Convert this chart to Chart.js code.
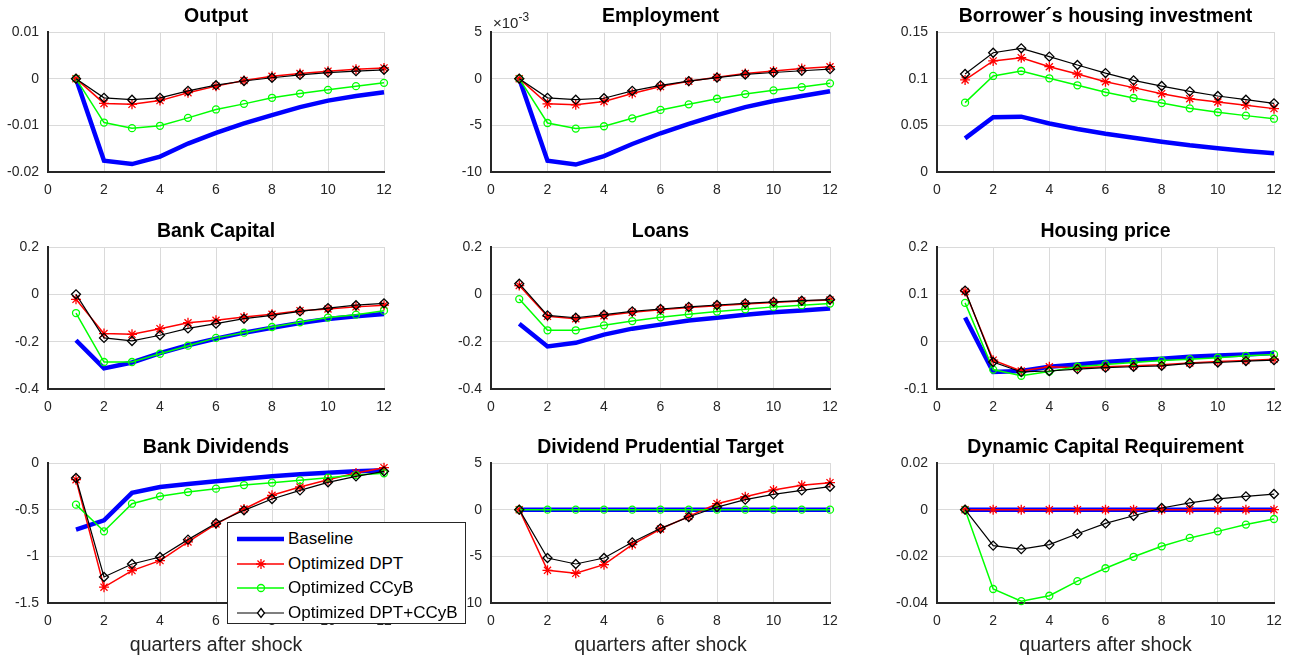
<!DOCTYPE html>
<html>
<head>
<meta charset="utf-8">
<script src="https://cdn.jsdelivr.net/npm/chart.js@4.4.0/dist/chart.umd.min.js"></script>
<style>
body { margin: 0; background: #fff; width: 1293px; height: 661px; position: relative; overflow: hidden; font-family: "Liberation Sans", Arial, sans-serif; }
canvas { position: absolute; }
#legend { position: absolute; left: 227px; top: 522px; width: 237px; height: 100px; border: 1px solid #262626; background: #fff; }
.item { position: absolute; left: 9px; height: 24px; display: flex; align-items: center; font-size: 17px; color: #000; white-space: nowrap; }
.item svg { margin-right: 3px; }
</style>
</head>
<body>
<div id="legend"></div>
<script>
const quarters = [1, 2, 3, 4, 5, 6, 7, 8, 9, 10, 11, 12];
const seriesNames = ["Baseline", "Optimized DPT", "Optimized CCyB", "Optimized DPT+CCyB"];

// Output
const outputBase = [0, -0.0176, -0.0183, -0.0167, -0.0139, -0.0116, -0.0096, -0.0078, -0.0061, -0.0047, -0.0037, -0.0029];
const outputDPT = [0, -0.0053, -0.0055, -0.0047, -0.0030, -0.0016, -0.0004, 0.0005, 0.0011, 0.0016, 0.0020, 0.0023];
const outputCCyB = [0, -0.0094, -0.0106, -0.0101, -0.0084, -0.0066, -0.0054, -0.0041, -0.0032, -0.0024, -0.0016, -0.0009];
const outputBoth = [0, -0.0041, -0.0045, -0.0041, -0.0026, -0.0014, -0.0005, 0.0002, 0.0008, 0.0013, 0.0016, 0.0019];

// Employment (x 10^-3)
const emplBase = [0, -8.8, -9.2, -8.3, -7.0, -5.85, -4.85, -3.9, -3.05, -2.4, -1.85, -1.35];
const emplDPT = [0, -2.7, -2.8, -2.45, -1.6, -0.85, -0.28, 0.15, 0.55, 0.82, 1.1, 1.28];
const emplCCyB = [0, -4.75, -5.35, -5.1, -4.25, -3.35, -2.75, -2.15, -1.65, -1.25, -0.9, -0.5];
const emplBoth = [0, -2.05, -2.25, -2.1, -1.3, -0.72, -0.26, 0.12, 0.45, 0.66, 0.85, 1.02];

// Borrower's housing investment
const houseInvBase = [0.036, 0.0586, 0.0593, 0.052, 0.046, 0.041, 0.0368, 0.0325, 0.0286, 0.0254, 0.0225, 0.020];
const houseInvDPT = [0.0986, 0.119, 0.1225, 0.1128, 0.105, 0.0968, 0.0904, 0.0839, 0.0786, 0.075, 0.0714, 0.0679];
const houseInvCCyB = [0.0743, 0.1029, 0.1082, 0.1004, 0.0929, 0.0854, 0.0793, 0.0739, 0.0682, 0.064, 0.0604, 0.0571];
const houseInvBoth = [0.105, 0.1278, 0.1325, 0.1236, 0.1146, 0.106, 0.0982, 0.0921, 0.0864, 0.0814, 0.0775, 0.0736];

// Bank Capital
const capBase = [-0.194, -0.313, -0.288, -0.248, -0.215, -0.187, -0.162, -0.141, -0.121, -0.104, -0.093, -0.083];
const capDPT = [-0.021, -0.166, -0.169, -0.145, -0.12, -0.11, -0.096, -0.084, -0.069, -0.062, -0.053, -0.046];
const capCCyB = [-0.079, -0.286, -0.286, -0.251, -0.217, -0.184, -0.162, -0.138, -0.118, -0.098, -0.086, -0.069];
const capBoth = [0, -0.184, -0.197, -0.173, -0.144, -0.124, -0.103, -0.089, -0.072, -0.058, -0.046, -0.038];

// Loans
const loansBase = [-0.124, -0.22, -0.205, -0.17, -0.145, -0.128, -0.111, -0.099, -0.086, -0.076, -0.068, -0.06];
const loansDPT = [0.037, -0.093, -0.103, -0.09, -0.076, -0.065, -0.056, -0.048, -0.041, -0.035, -0.028, -0.024];
const loansCCyB = [-0.02, -0.152, -0.152, -0.131, -0.113, -0.097, -0.084, -0.073, -0.063, -0.053, -0.046, -0.039];
const loansBoth = [0.045, -0.089, -0.099, -0.086, -0.072, -0.062, -0.053, -0.045, -0.038, -0.032, -0.027, -0.022];

// Housing price
const priceBase = [0.051, -0.064, -0.062, -0.053, -0.048, -0.043, -0.039, -0.036, -0.032, -0.029, -0.027, -0.024];
const priceDPT = [0.106, -0.039, -0.062, -0.053, -0.055, -0.053, -0.051, -0.049, -0.045, -0.042, -0.04, -0.037];
const priceCCyB = [0.082, -0.059, -0.072, -0.063, -0.053, -0.048, -0.044, -0.04, -0.037, -0.034, -0.03, -0.027];
const priceBoth = [0.108, -0.043, -0.064, -0.062, -0.058, -0.055, -0.053, -0.051, -0.046, -0.044, -0.041, -0.039];

// Bank Dividends
const divBase = [-0.714, -0.614, -0.32, -0.257, -0.225, -0.196, -0.168, -0.143, -0.121, -0.104, -0.089, -0.079];
const divDPT = [-0.179, -1.33, -1.153, -1.046, -0.846, -0.654, -0.493, -0.346, -0.257, -0.179, -0.107, -0.05];
const divCCyB = [-0.446, -0.732, -0.436, -0.357, -0.311, -0.275, -0.236, -0.211, -0.186, -0.157, -0.129, -0.111];
const divBoth = [-0.161, -1.221, -1.082, -1.007, -0.821, -0.646, -0.507, -0.386, -0.293, -0.207, -0.143, -0.089];

// Dividend Prudential Target
const dptBase = [0, 0, 0, 0, 0, 0, 0, 0, 0, 0, 0, 0];
const dptDPT = [0, -6.5, -6.82, -5.89, -3.75, -2.07, -0.72, 0.64, 1.39, 2.11, 2.61, 2.89];
const dptCCyB = [0, 0, 0, 0, 0, 0, 0, 0, 0, 0, 0, 0];
const dptBoth = [0, -5.18, -5.82, -5.18, -3.5, -2.0, -0.79, 0.28, 1.07, 1.64, 2.07, 2.46];

// Dynamic Capital Requirement
const dcrBase = [0, 0, 0, 0, 0, 0, 0, 0, 0, 0, 0, 0];
const dcrDPT = [0, 0, 0, 0, 0, 0, 0, 0, 0, 0, 0, 0];
const dcrCCyB = [0, -0.034, -0.0392, -0.0369, -0.0306, -0.0251, -0.0202, -0.0157, -0.0121, -0.0093, -0.0064, -0.004];
const dcrBoth = [0, -0.0154, -0.0169, -0.015, -0.0103, -0.0059, -0.0026, 0.0007, 0.0029, 0.0046, 0.0057, 0.0067];

const panels = [
	{ title: "Output", min: -0.02, max: 0.01, step: 0.01, data: [outputBase, outputDPT, outputCCyB, outputBoth] },
	{ title: "Employment", min: -10, max: 5, step: 5, data: [emplBase, emplDPT, emplCCyB, emplBoth], exponent: true },
	{ title: "Borrower\u00b4s housing investment", min: 0, max: 0.15, step: 0.05, data: [houseInvBase, houseInvDPT, houseInvCCyB, houseInvBoth] },
	{ title: "Bank Capital", min: -0.4, max: 0.2, step: 0.2, data: [capBase, capDPT, capCCyB, capBoth] },
	{ title: "Loans", min: -0.4, max: 0.2, step: 0.2, data: [loansBase, loansDPT, loansCCyB, loansBoth] },
	{ title: "Housing price", min: -0.1, max: 0.2, step: 0.1, data: [priceBase, priceDPT, priceCCyB, priceBoth] },
	{ title: "Bank Dividends", min: -1.5, max: 0, step: 0.5, data: [divBase, divDPT, divCCyB, divBoth] },
	{ title: "Dividend Prudential Target", min: -10, max: 5, step: 5, data: [dptBase, dptDPT, dptCCyB, dptBoth] },
	{ title: "Dynamic Capital Requirement", min: -0.04, max: 0.02, step: 0.02, data: [dcrBase, dcrDPT, dcrCCyB, dcrBoth] },
];

// line looks: baseline, DPT, CCyB, DPT+CCyB
const looks = [
	{ color: "#0000ff", width: 4.5, marker: false, radius: 0, order: 4 },
	{ color: "#ff0000", width: 1.5, marker: "star", radius: 5, order: 3 },
	{ color: "#00ff00", width: 1.5, marker: "circle", radius: 3.5, order: 2 },
	{ color: "#000000", width: 1.2, marker: "rectRot", radius: 4.5, order: 1 },
];

// plot area edges in page pixels
const colLeft = [48, 491, 937];
const colRight = [384, 830, 1274];
const rowTop = [32, 247, 463];
const rowBottom = [172, 389, 603];

const FONT = "'Liberation Sans', Arial, sans-serif";
const fmt = (v) => String(parseFloat(Number(v).toFixed(4)));

const exponentLabel = {
	id: "exponentLabel",
	afterDraw(chart, args, opts) {
		if (!opts.show) return;
		const ctx = chart.ctx;
		const a = chart.chartArea;
		ctx.save();
		ctx.fillStyle = "#262626";
		ctx.textBaseline = "alphabetic";
		ctx.font = "15px " + FONT;
		ctx.fillText("\u00d710", a.left + 2, a.top - 4);
		const w = ctx.measureText("\u00d710").width;
		ctx.font = "12px " + FONT;
		ctx.fillText("-3", a.left + 2 + w, a.top - 11);
		ctx.restore();
	},
};

panels.forEach((p, i) => {
	const row = Math.floor(i / 3);
	const col = i % 3;
	const lastRow = row === 2;
	const hx = lastRow ? 58 : 30;
	const cv = document.createElement("canvas");
	const w = 48 + (colRight[col] - colLeft[col]) + 12;
	const h = 32 + (rowBottom[row] - rowTop[row]) + hx;
	cv.width = w;
	cv.height = h;
	cv.style.left = colLeft[col] - 48 + "px";
	cv.style.top = rowTop[row] - 32 + "px";
	document.body.insertBefore(cv, document.getElementById("legend"));

	new Chart(cv.getContext("2d"), {
		type: "line",
		data: {
			datasets: p.data.map((vals, k) => ({
				label: seriesNames[k],
				data: quarters.map((q, j) => ({ x: q, y: vals[j] })),
				borderColor: looks[k].color,
				borderWidth: looks[k].width,
				pointStyle: looks[k].marker,
				pointRadius: looks[k].radius,
				pointBorderColor: looks[k].color,
				pointBackgroundColor: "rgba(0,0,0,0)",
				pointBorderWidth: 1.3,
				tension: 0,
				order: looks[k].order,
				clip: false,
			})),
		},
		options: {
			responsive: false,
			animation: false,
			events: [],
			layout: { padding: { top: 0, right: 12, bottom: 0, left: 0 } },
			plugins: {
				legend: { display: false },
				tooltip: { enabled: false },
				title: {
					display: true,
					text: p.title,
					fullSize: false,
					color: "#000",
					font: { family: FONT, size: 19.5, weight: "bold", lineHeight: "20px" },
					padding: { top: 7, bottom: 5 },
				},
				exponentLabel: { show: !!p.exponent },
			},
			scales: {
				x: {
					type: "linear",
					min: 0,
					max: 12,
					afterFit: (s) => {
						s.height = hx;
						s.paddingLeft = 0;
						s.paddingRight = 0;
					},
					ticks: { stepSize: 2, color: "#262626", font: { family: FONT, size: 14 }, padding: 10, maxRotation: 0, autoSkip: false },
					grid: { color: "#dadada", drawTicks: false },
					border: { color: "#262626", width: 2 },
					title: {
						display: lastRow,
						text: "quarters after shock",
						color: "#262626",
						font: { family: FONT, size: 19.5, lineHeight: "20px" },
						padding: { top: 5, bottom: 5 },
					},
				},
				y: {
					min: p.min,
					max: p.max,
					afterFit: (s) => {
						s.width = 48;
						s.paddingTop = 0;
						s.paddingBottom = 0;
					},
					ticks: { stepSize: p.step, callback: fmt, color: "#262626", font: { family: FONT, size: 14 }, padding: 9 },
					grid: { color: "#dadada", drawTicks: false },
					border: { color: "#262626", width: 2 },
				},
			},
		},
		plugins: [exponentLabel],
	});
});

// legend drawn as html over the figure
function markerSvg(look) {
	const cx = 24, cy = 12;
	let m = "";
	if (look.marker === "star") {
		const r = 5, d = r * Math.SQRT1_2;
		m = `<path d="M${cx - r} ${cy}H${cx + r}M${cx} ${cy - r}V${cy + r}M${cx - d} ${cy - d}L${cx + d} ${cy + d}M${cx - d} ${cy + d}L${cx + d} ${cy - d}" stroke="${look.color}" stroke-width="1.3"/>`;
	} else if (look.marker === "circle") {
		m = `<circle cx="${cx}" cy="${cy}" r="3.5" fill="none" stroke="${look.color}" stroke-width="1.3"/>`;
	} else if (look.marker === "rectRot") {
		m = `<polygon points="${cx},${cy - 4.5} ${cx + 3.5},${cy} ${cx},${cy + 4.5} ${cx - 3.5},${cy}" fill="#fff" stroke="${look.color}" stroke-width="1.3"/>`;
	}
	return `<svg width="48" height="24"><line x1="0" y1="${cy}" x2="47" y2="${cy}" stroke="${look.color}" stroke-width="${look.width}"/>${m}</svg>`;
}
const legendTops = [4, 28.5, 53, 77.5];
const legend = document.getElementById("legend");
seriesNames.forEach((name, k) => {
	const it = document.createElement("div");
	it.className = "item";
	it.style.top = legendTops[k] + "px";
	it.innerHTML = markerSvg(looks[k]) + "<span>" + name + "</span>";
	legend.appendChild(it);
});
</script>
</body>
</html>
